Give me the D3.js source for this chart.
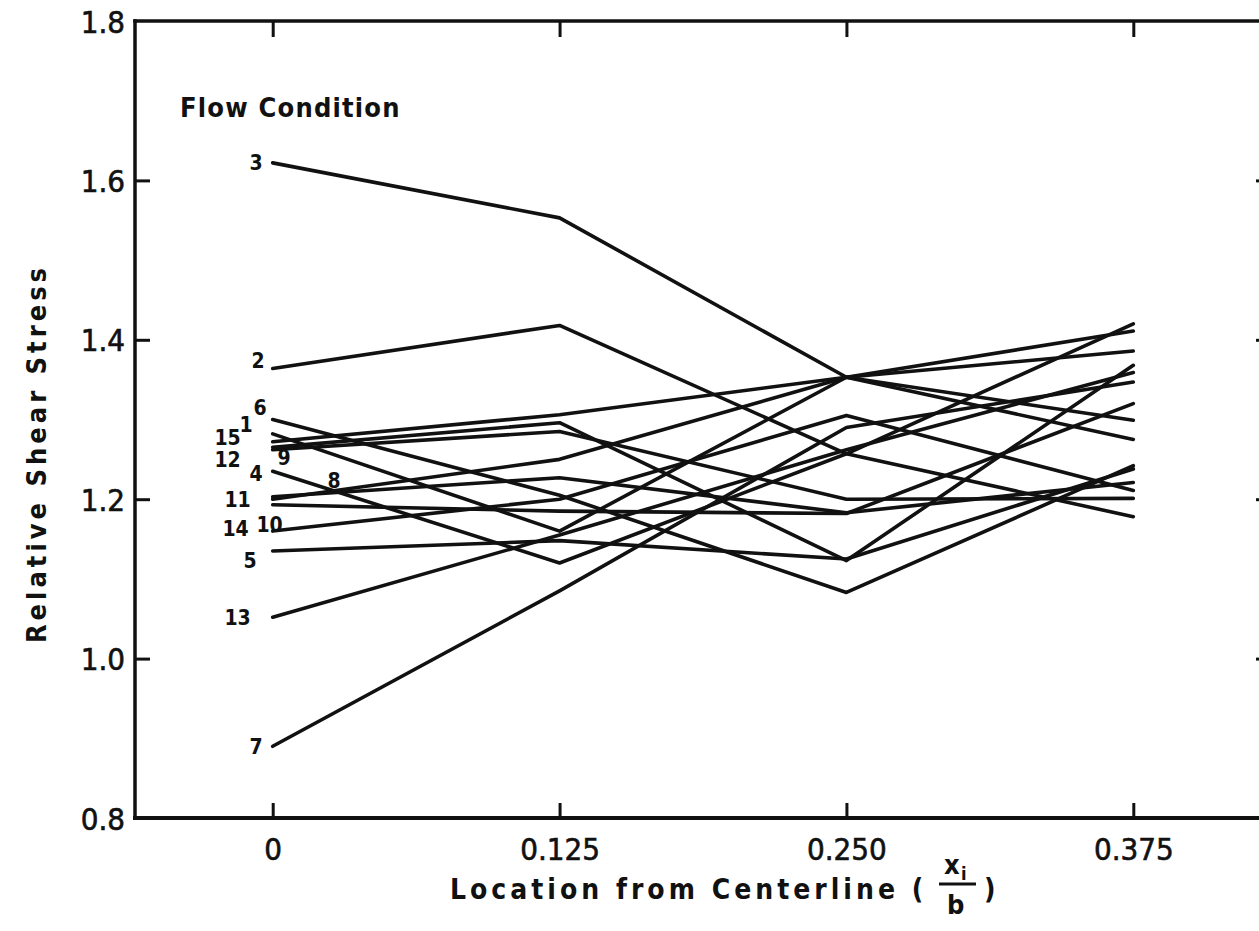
<!DOCTYPE html>
<html>
<head>
<meta charset="utf-8">
<script src="https://cdn.jsdelivr.net/npm/d3@7/dist/d3.min.js"></script>
<style>
  html, body { margin: 0; padding: 0; background: #fff; }
  svg { display: block; }
  text { fill: #111; }
</style>
</head>
<body>
<svg id="chart" width="1259" height="931"></svg>
<script>
// Relative shear stress across the channel, one trace per flow condition
const locations = [0, 0.125, 0.25, 0.375];
const xTickLabels = ["0", "0.125", "0.250", "0.375"];
const yTickValues = [0.8, 1.0, 1.2, 1.4, 1.6, 1.8];
const yTickLabels = ["0.8", "1.0", "1.2", "1.4", "1.6", "1.8"];

const condition1  = [1.282, 1.160, 1.353, 1.411];
const condition2  = [1.364, 1.418, 1.257, 1.178];
const condition3  = [1.622, 1.553, 1.353, 1.299];
const condition4  = [1.235, 1.120, 1.257, 1.420];
const condition5  = [1.135, 1.148, 1.125, 1.238];
const condition6  = [1.300, 1.205, 1.083, 1.242];
const condition7  = [0.890, 1.085, 1.290, 1.347];
const condition8  = [1.203, 1.227, 1.183, 1.221];
const condition9  = [1.262, 1.285, 1.200, 1.201];
const condition10 = [1.193, 1.185, 1.182, 1.320];
const condition11 = [1.200, 1.250, 1.353, 1.275];
const condition12 = [1.265, 1.296, 1.123, 1.368];
const condition13 = [1.052, 1.155, 1.262, 1.359];
const condition14 = [1.160, 1.200, 1.305, 1.211];
const condition15 = [1.272, 1.306, 1.353, 1.386];

const conditionNames = ["1","2","3","4","5","6","7","8","9","10","11","12","13","14","15"];
const conditionValues = [condition1, condition2, condition3, condition4, condition5,
  condition6, condition7, condition8, condition9, condition10, condition11,
  condition12, condition13, condition14, condition15];

// where each condition number sits relative to the first point of its trace
const labelOffsets = {
  "1": [-20, -9], "2": [-8, -8], "3": [-10, 0], "4": [-10, 2], "5": [-16, 10],
  "6": [-6, -12], "7": [-10, 0], "8": [68, -16], "9": [18, 8], "10": [10, 20],
  "11": [-22, 0], "12": [-32, 12], "13": [-22, 0], "14": [-24, -2], "15": [-32, -4]
};

const svg = d3.select("#chart");
const plotLeft = 135, plotTop = 21, plotBottom = 818, plotRight = 1271;

const x = d3.scaleLinear().domain([-0.06, 0.435]).range([plotLeft, plotRight]);
const y = d3.scaleLinear().domain([0.8, 1.8]).range([plotBottom, plotTop]);

const font = "'DejaVu Sans Condensed', 'DejaVu Sans', sans-serif";

// frame
const frame = svg.append("g").attr("stroke", "#111").attr("fill", "none")
  .attr("stroke-linecap", "square");
frame.append("line").attr("x1", plotLeft).attr("x2", plotLeft).attr("y1", plotTop).attr("y2", plotBottom).attr("stroke-width", 3.5);
frame.append("line").attr("x1", plotLeft).attr("x2", plotRight).attr("y1", plotTop).attr("y2", plotTop).attr("stroke-width", 3.5);
frame.append("line").attr("x1", plotLeft).attr("x2", plotRight).attr("y1", plotBottom).attr("y2", plotBottom).attr("stroke-width", 4);
frame.append("line").attr("x1", plotRight).attr("x2", plotRight).attr("y1", plotTop).attr("y2", plotBottom).attr("stroke-width", 3.5);

// y axis ticks and labels
const yAxis = d3.axisLeft(y).tickValues(yTickValues)
  .tickFormat((d, i) => yTickLabels[i]).tickSize(-15).tickPadding(24);
const gy = svg.append("g").attr("transform", `translate(${plotLeft},0)`).call(yAxis);
gy.select(".domain").remove();
gy.selectAll(".tick line").attr("stroke", "#111").attr("stroke-width", 3)
  .filter(d => d === 0.8 || d === 1.8).remove();
gy.selectAll(".tick text").attr("font-family", font).attr("font-size", 31)
  .attr("fill", "#111").attr("stroke", "#111").attr("stroke-width", 0.6)
  .attr("dy", "0.36em").attr("x", -10);

// ticks on the right frame
const gyr = svg.append("g").attr("transform", `translate(${plotRight},0)`)
  .call(d3.axisRight(y).tickValues(yTickValues.filter(d => d > 0.8 && d < 1.8)).tickSize(-15).tickFormat(""));
gyr.select(".domain").remove();
gyr.selectAll(".tick line").attr("stroke", "#111").attr("stroke-width", 3);

// x axis ticks and labels
const xAxis = d3.axisBottom(x).tickValues(locations)
  .tickFormat((d, i) => xTickLabels[i]).tickSize(-15).tickPadding(30);
const gx = svg.append("g").attr("transform", `translate(0,${plotBottom})`).call(xAxis);
gx.select(".domain").remove();
gx.selectAll(".tick line").attr("stroke", "#111").attr("stroke-width", 3);
gx.selectAll(".tick text").attr("font-family", font).attr("font-size", 31)
  .attr("fill", "#111").attr("stroke", "#111").attr("stroke-width", 0.6)
  .attr("y", 42).attr("dy", 0);

const gxt = svg.append("g").attr("transform", `translate(0,${plotTop})`)
  .call(d3.axisTop(x).tickValues(locations).tickSize(-16).tickFormat(""));
gxt.select(".domain").remove();
gxt.selectAll(".tick line").attr("stroke", "#111").attr("stroke-width", 3);

// axis titles
svg.append("text").attr("font-family", font).attr("font-size", 27)
  .attr("font-weight", "bold").attr("letter-spacing", 4)
  .attr("text-anchor", "middle")
  .attr("transform", `translate(46,${(plotTop + plotBottom) / 2 + 34}) rotate(-90)`)
  .text("Relative Shear Stress");

const xt = svg.append("g").attr("font-family", font).attr("font-size", 28).attr("font-weight", "bold");
xt.append("text").attr("x", 450).attr("y", 899).attr("letter-spacing", 4)
  .text("Location from Centerline (");
xt.append("text").attr("x", 944).attr("y", 874).attr("font-size", 27).text("x");
xt.append("text").attr("x", 961).attr("y", 880).attr("font-size", 18).text("i");
xt.append("line").attr("x1", 939).attr("x2", 976).attr("y1", 884).attr("y2", 884)
  .attr("stroke", "#111").attr("stroke-width", 3);
xt.append("text").attr("x", 947).attr("y", 914).attr("font-size", 27).text("b");
xt.append("text").attr("x", 984).attr("y", 899).text(")");

svg.append("text").attr("x", 180).attr("y", 117).attr("font-family", font)
  .attr("font-size", 27).attr("font-weight", "bold").attr("letter-spacing", 1.2)
  .text("Flow Condition");

// traces
const line = d3.line().x((d, i) => x(locations[i])).y(d => y(d));
svg.append("g").selectAll("path").data(conditionValues).join("path")
  .attr("d", line).attr("fill", "none").attr("stroke", "#111")
  .attr("stroke-width", 3.6).attr("stroke-linecap", "round").attr("stroke-linejoin", "round");

// condition numbers at the start of each trace
svg.append("g").selectAll("text").data(conditionNames).join("text")
  .attr("font-family", font).attr("font-size", 21).attr("font-weight", "bold")
  .attr("text-anchor", "end").attr("dy", "0.35em")
  .attr("x", (d, i) => x(locations[0]) + labelOffsets[d][0])
  .attr("y", (d, i) => y(conditionValues[i][0]) + labelOffsets[d][1])
  .text(d => d);
</script>
</body>
</html>
